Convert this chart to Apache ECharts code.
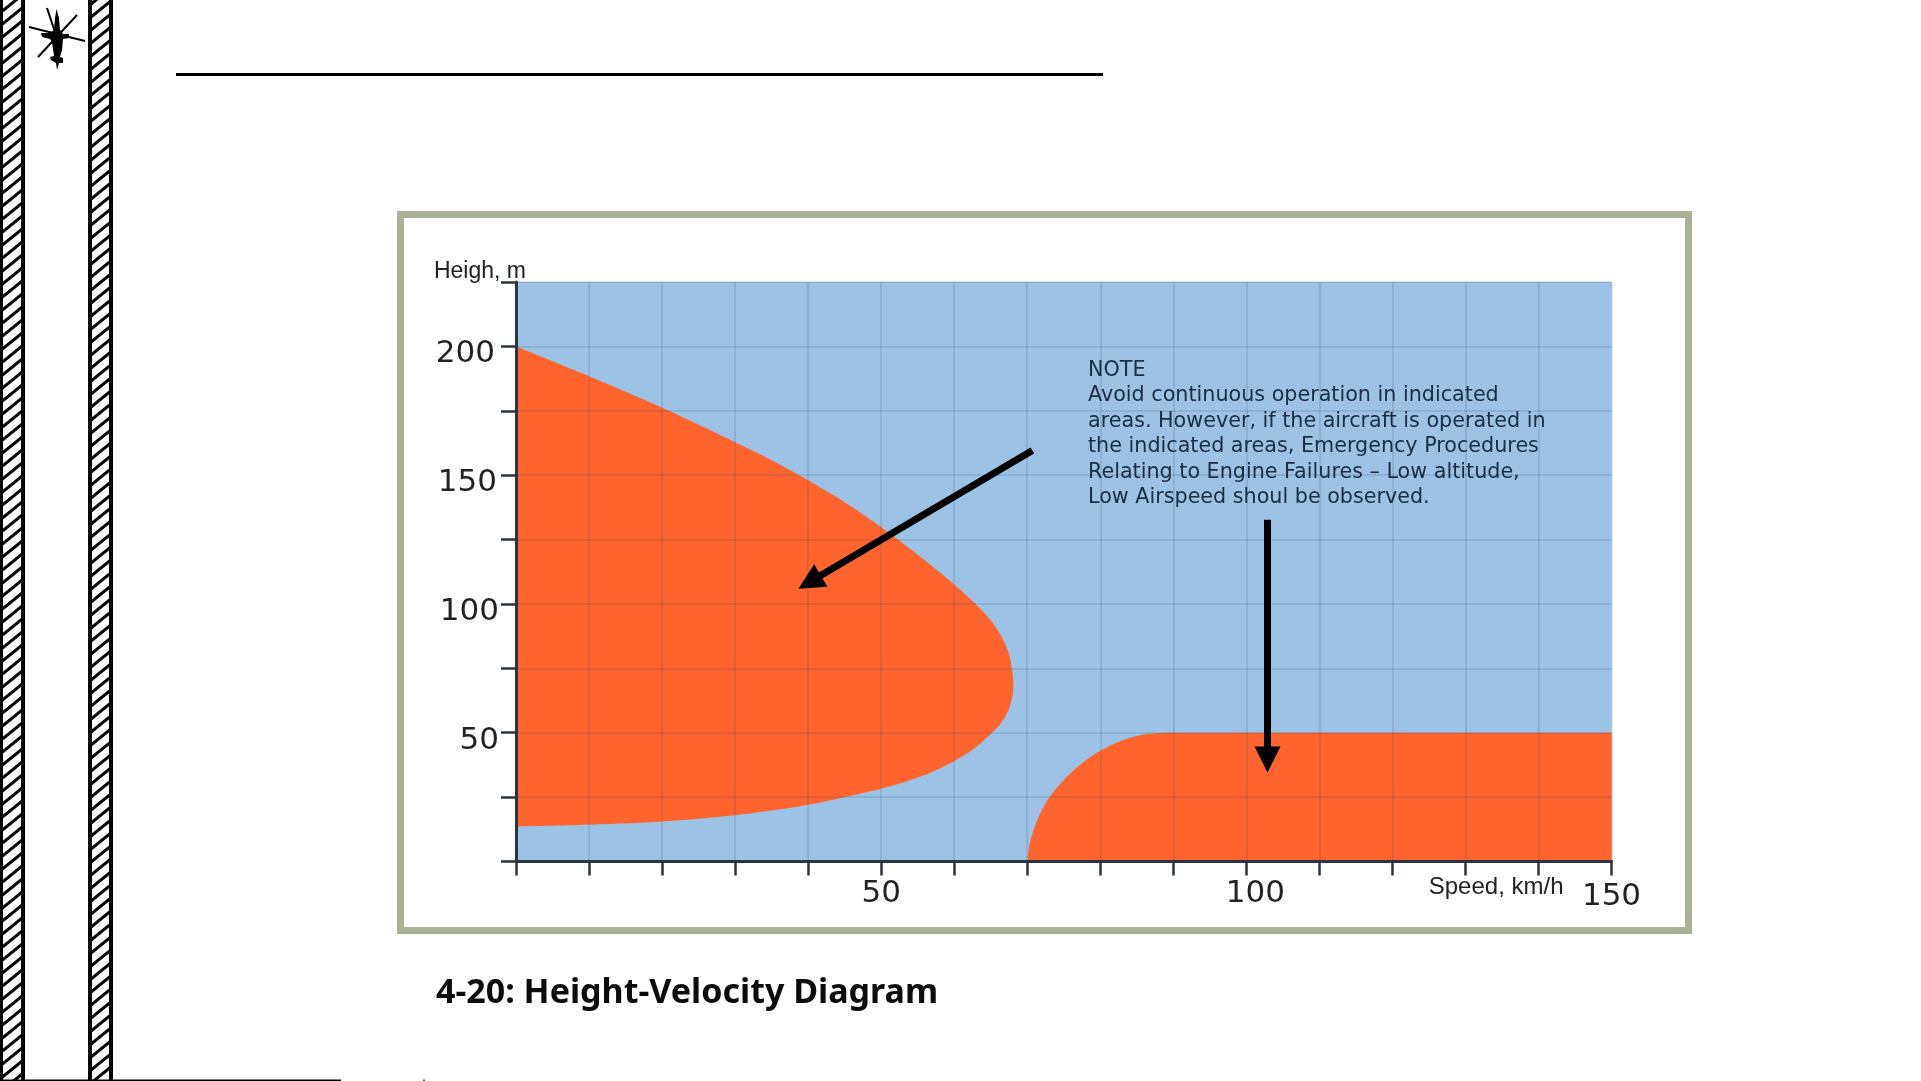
<!DOCTYPE html>
<html><head><meta charset="utf-8">
<script src="https://cdn.jsdelivr.net/npm/echarts@6/dist/echarts.min.js"></script>
<style>html,body{margin:0;padding:0;background:#fff;overflow:hidden}#c{width:1921px;height:1081px}</style>
</head><body><div id="c"></div>
<script>
const titleText = '4-20: Height-Velocity Diagram';
const yName = 'Heigh, m';
const xName = 'Speed, km/h';
const xLabels = [50, 100, 150];
const yLabels = [50, 100, 150, 200];
const noteLines = ['NOTE','Avoid continuous operation in indicated','areas. However, if the aircraft is operated in','the indicated areas, Emergency Procedures','Relating to Engine Failures – Low altitude,','Low Airspeed shoul be observed.'];
// [speed, height] outlines
const leftCurve = [[0,200],[10,188.4],[20,176.2],[30,162.8],[35,155.8],[40,148],[45,139.5],[50,129.8],[54.6,120],[57,114.6],[59.4,109],[61.4,104],[63.1,99.5],[64.6,95],[65.8,90.5],[66.8,85.5],[67.5,80.5],[67.9,75],[68.1,69],[67.9,63],[67.3,58],[66.2,53],[64.6,48.5],[62.8,44],[60,39],[57,34.8],[54,31.6],[50,28.3],[45,25],[40,22],[30,18],[20,15.5],[10,14.3],[0,13.6]];
const rightCurve = [[70,0],[70.35,7],[71.3,15.5],[72.7,23.5],[74.8,31],[77.2,37.5],[80,43],[83,47],[86,49.3],[89,50]];
const rightCorners = [[150,50],[150,0]];
const arrowA = [[70.7,159.6],[40.2,108.5]];
const arrowB = [[102.9,132.7],[102.9,39.6]];

const hatch = document.createElement('canvas');
hatch.width = 16; hatch.height = 13;
(function(){const g=hatch.getContext('2d');g.fillStyle='#fff';g.fillRect(0,0,16,13);g.strokeStyle='#000';g.lineWidth=3;
 for(let k=-16;k<=16;k+=16){g.beginPath();g.moveTo(k-4,16.25);g.lineTo(k+20,-3.25);g.stroke();}})();

// Centripetal Catmull-Rom sampling of mapped pixel points so the outline draws as a smooth edge
function smoothPx(px){
  const out=[];
  const lerp=(p,q,t0,t1,t)=>[0,1].map(k=>(t1-t)/(t1-t0)*p[k]+(t-t0)/(t1-t0)*q[k]);
  const step=(t,p,q)=>t+Math.sqrt(Math.hypot(q[0]-p[0],q[1]-p[1]));
  for(let i=0;i<px.length-1;i++){
    const p1=px[i],p2=px[i+1];
    const p0=i>0?px[i-1]:[2*p1[0]-p2[0],2*p1[1]-p2[1]];
    const p3=i<px.length-2?px[i+2]:[2*p2[0]-p1[0],2*p2[1]-p1[1]];
    const t0=0,t1=step(t0,p0,p1),t2=step(t1,p1,p2),t3=step(t2,p2,p3);
    for(let s=0;s<14;s++){
      const t=t1+(t2-t1)*s/14;
      const a1=lerp(p0,p1,t0,t1,t),a2=lerp(p1,p2,t1,t2,t),a3=lerp(p2,p3,t2,t3,t);
      const b1=lerp(a1,a2,t0,t2,t),b2=lerp(a2,a3,t1,t3,t);
      out.push(lerp(b1,b2,t1,t2,t));
    }
  }
  out.push(px[px.length-1]);
  return out;
}
const chart = echarts.init(document.getElementById('c'),null,{renderer:'canvas',width:1921,height:1081});
const region = (curve,corners) => ({
  type:'custom', coordinateSystem:'cartesian2d', z:1, silent:true, clip:true,
  data:curve.concat(corners),
  renderItem:(p,api)=> p.dataIndex===0 ? ({type:'polygon',shape:{points:smoothPx(curve.map(q=>api.coord(q))).concat(corners.map(q=>api.coord(q)))},style:{fill:'#ff642e'}}) : null
});
const arrow = a => ({
  type:'lines', coordinateSystem:'cartesian2d', z:5, silent:true,
  symbol:['none','triangle'], symbolSize:[26,26],
  lineStyle:{color:'#000',width:7,opacity:1,curveness:0},
  data:[{coords:a}]
});
const dark='#2b3540';
const gridLine={show:true,lineStyle:{color:'rgba(40,70,110,0.15)',width:2}};
chart.setOption({
  animation:false,
  backgroundColor:'#fff',
  title:{text:titleText,left:431,top:971,textStyle:{fontFamily:'Noto Sans',fontWeight:'bold',fontSize:34,color:'#0c0c0c'}},
  grid:{left:516,right:1921-1611.5,top:282,bottom:1081-861.5,show:true,backgroundColor:'#9cc3e6',borderWidth:0,containLabel:false},
  xAxis:{type:'value',min:0,max:150,interval:10,z:3,
    name:xName,nameLocation:'end',nameGap:-48,
    nameTextStyle:{fontFamily:'Liberation Sans',fontSize:24,color:'#222',align:'right',verticalAlign:'top',padding:[14,0,0,0]},
    axisLine:{show:true,lineStyle:{color:dark,width:3}},
    axisTick:{show:true,length:14,inside:false,lineStyle:{color:dark,width:2.5}},
    axisLabel:{margin:16.5,fontFamily:'DejaVu Sans',fontSize:31,color:'#222',hideOverlap:false,showMaxLabel:true,
      formatter:v=>xLabels.includes(v)?(v===100?'{s|'+v+'}':v===150?'{t|'+v+'}':String(v)):'',
      rich:{s:{fontFamily:'DejaVu Sans',fontSize:31,color:'#222',padding:[0,0,0,18]},t:{fontFamily:'DejaVu Sans',fontSize:31,color:'#222',padding:[3.5,0,0,0]}}},
    splitLine:gridLine},
  yAxis:{type:'value',min:0,max:225,interval:25,z:3,
    name:yName,nameLocation:'end',nameGap:-1.5,
    nameTextStyle:{fontFamily:'Liberation Sans',fontSize:23,color:'#222',align:'right',verticalAlign:'bottom',padding:[0,-10,0,0]},
    axisLine:{show:true,lineStyle:{color:dark,width:3}},
    axisTick:{show:true,length:15,lineStyle:{color:dark,width:2.5}},
    axisLabel:{margin:17,fontFamily:'DejaVu Sans',fontSize:31,color:'#222',verticalAlign:'top',lineHeight:16,showMaxLabel:true,
      formatter:v=>v===200?'{a|200}':v===150?'{b|150}':yLabels.includes(v)?String(v):'',
      rich:{a:{fontFamily:'DejaVu Sans',fontSize:31,color:'#222',lineHeight:16,padding:[0,4,0,0]},b:{fontFamily:'DejaVu Sans',fontSize:31,color:'#222',lineHeight:16,padding:[0,2,0,0]}}},
    splitLine:gridLine},
  series:[region(leftCurve,[]),region(rightCurve,rightCorners),arrow(arrowA),arrow(arrowB)],
  graphic:{elements:[
    {type:'rect',silent:true,z:0,shape:{x:400.5,y:214.5,width:1288,height:716},style:{fill:'none',stroke:'#a9b196',lineWidth:7}},
    {type:'rect',silent:true,shape:{x:0,y:0,width:25,height:1081},style:{fill:{image:hatch,repeat:'repeat'},stroke:'#000',lineWidth:0}},
    {type:'rect',silent:true,shape:{x:88,y:0,width:25,height:1081},style:{fill:{image:hatch,repeat:'repeat'},stroke:'#000',lineWidth:0}},
    {type:'rect',silent:true,shape:{x:0,y:0,width:3,height:1081},style:{fill:'#000'}},
    {type:'rect',silent:true,shape:{x:21,y:0,width:4,height:1081},style:{fill:'#000'}},
    {type:'rect',silent:true,shape:{x:88,y:0,width:4,height:1081},style:{fill:'#000'}},
    {type:'rect',silent:true,shape:{x:109,y:0,width:4,height:1081},style:{fill:'#000'}},
    {type:'rect',silent:true,shape:{x:176,y:73,width:927,height:3},style:{fill:'#000'}},
    {type:'rect',silent:true,shape:{x:0,y:1079.5,width:341,height:1.5},style:{fill:'#000'}},
    {type:'rect',silent:true,shape:{x:423,y:1079.5,width:2,height:1.5},style:{fill:'#555'}},
    // helicopter icon
    {type:'polygon',silent:true,shape:{points:[[56.5,9],[59,18],[60,30],[63,34],[69,34],[69,38],[63,39],[62,50],[60,57],[63,58],[63,63],[59,63],[57,70],[56,63],[51,60],[50,57],[54,56],[52,42],[50,39],[42,37],[41,33],[50,33],[54,30],[55,18]]},style:{fill:'#000'}},
    {type:'line',silent:true,shape:{x1:29,y1:27,x2:85,y2:41},style:{stroke:'#000',lineWidth:2}},
    {type:'line',silent:true,shape:{x1:47,y1:8,x2:55,y2:32},style:{stroke:'#000',lineWidth:2}},
    {type:'line',silent:true,shape:{x1:77,y1:15,x2:38,y2:57},style:{stroke:'#000',lineWidth:2}},
    // note
    {type:'text',silent:true,z:10,x:1088,y:357.5,style:{text:noteLines.join('\n'),font:'20.7px "DejaVu Sans"',lineHeight:25.5,fill:'#1c2c42'}}
  ]}
});
</script></body></html>
